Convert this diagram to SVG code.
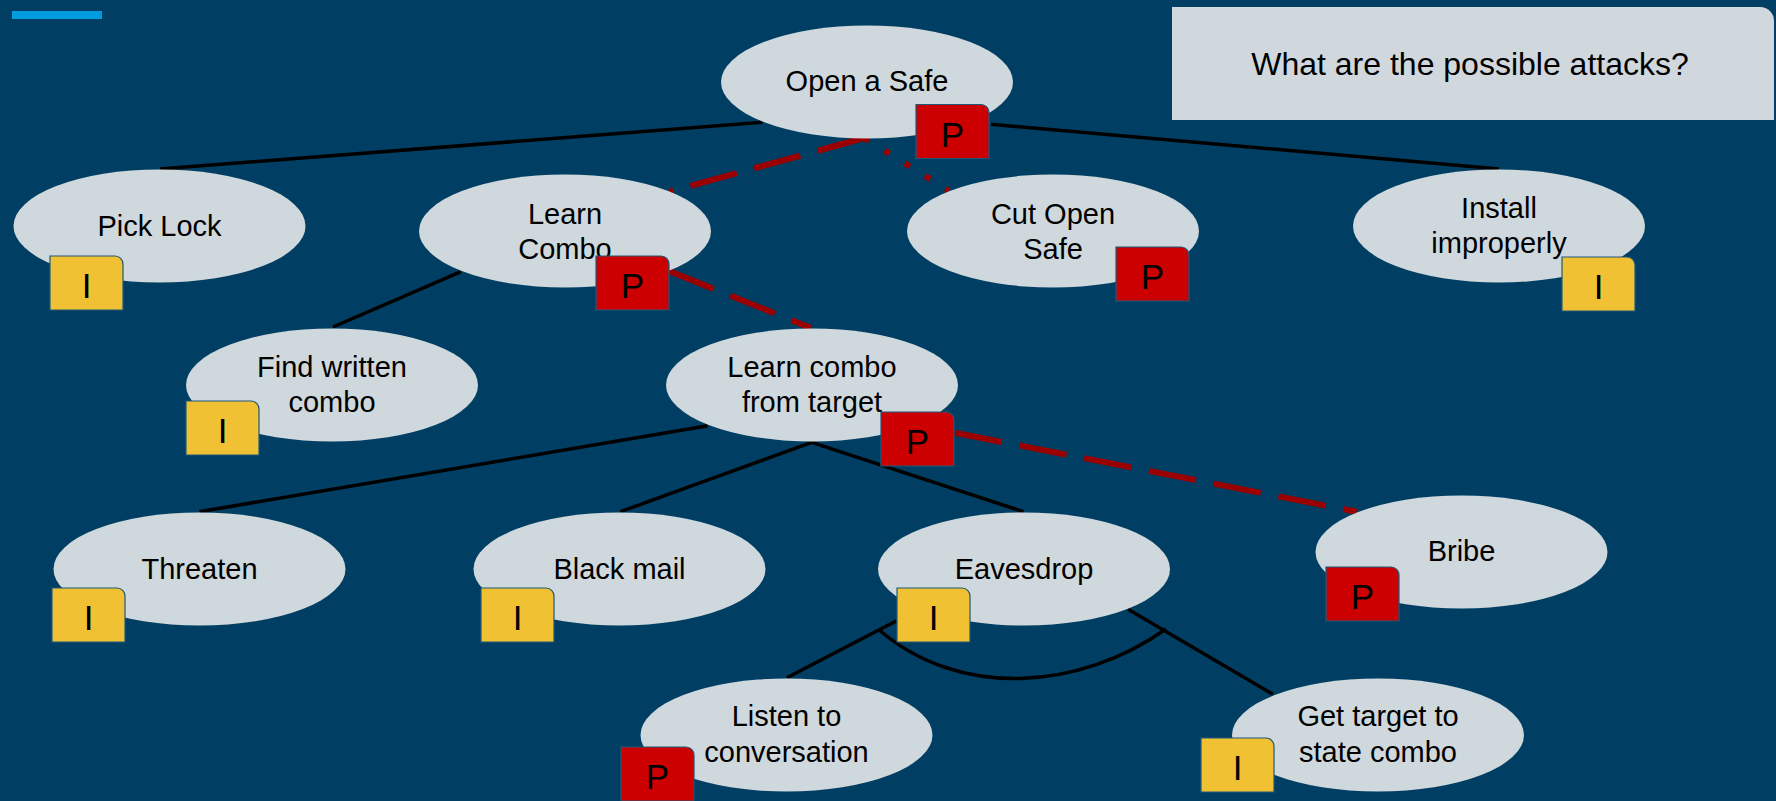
<svg xmlns="http://www.w3.org/2000/svg" xmlns:xlink="http://www.w3.org/1999/xlink" width="1776" height="801" viewBox="0 0 1776 801">
  <style>
    .node { fill: #CFD8DC; }
    .lbl { font-family: "Liberation Sans", Arial, sans-serif; font-size: 29px; fill: #000; text-anchor: middle; }
    .ttl { font-family: "Liberation Sans", Arial, sans-serif; font-size: 32px; fill: #000; text-anchor: middle; }
    .tree { stroke: #000; stroke-width: 3.5; fill: none; }
    .dash { stroke: #9B0000; stroke-width: 6; fill: none; stroke-dasharray: 48 18; }
    .dot { stroke: #9B0000; stroke-width: 6; fill: none; stroke-dasharray: 6 18; }
    .bp { fill: #CC0000; stroke: #1E5878; stroke-width: 1.2; }
    .bi { fill: #F0C233; stroke: #1E5878; stroke-width: 1.2; }
    .btxt { font-family: "Liberation Sans", Arial, sans-serif; font-size: 35px; fill: #000; text-anchor: middle; }
  </style>
  <defs>
    <!-- tag shape: square with one rounded top-right corner -->
    <path id="tag" d="M0 0 H65 A8 8 0 0 1 73 8 V54 H0 Z"/>
  </defs>

  <rect x="0" y="0" width="1776" height="801" fill="#003F63"/>
  <rect x="12" y="11" width="90" height="8" fill="#009CDE"/>

  <g id="question">
    <path d="M1172 7 H1760 A14 14 0 0 1 1774 21 V120 H1172 Z" fill="#D0D8DD"/>
    <text class="ttl" x="1470" y="75">What are the possible attacks?</text>
  </g>

  <g id="connectors">
    <line class="tree" x1="762.6" y1="122.3" x2="160" y2="169"/>
    <line class="tree" x1="991" y1="124.3" x2="1499" y2="169"/>
    <line class="tree" x1="461" y1="271.7" x2="333" y2="327"/>
    <line class="tree" x1="707.7" y1="425.7" x2="199.5" y2="511.7"/>
    <line class="tree" x1="811.7" y1="442.3" x2="620.4" y2="511.7"/>
    <line class="tree" x1="811.7" y1="442.3" x2="1023.5" y2="511.7"/>
    <line class="tree" x1="896.6" y1="620.7" x2="786.9" y2="677.7"/>
    <line class="tree" x1="1128" y1="609.3" x2="1273" y2="694.3"/>
    <path class="tree" d="M878 629 C960 700, 1080 690, 1166 629"/>
    <line class="dash" x1="864" y1="138" x2="669" y2="191.7"/>
    <line class="dot" x1="864" y1="138" x2="949" y2="190.7"/>
    <line class="dash" x1="669" y1="271" x2="811" y2="328"/>
    <line class="dash" x1="954.6" y1="432.7" x2="1356.6" y2="511.7"/>
  </g>

  <g id="open-safe">
    <ellipse class="node" cx="867" cy="82" rx="146" ry="56.5"/>
    <text class="lbl" x="867" y="91">Open a Safe</text>
    <use href="#tag" class="bp" x="916" y="104.5"/>
    <text class="btxt" x="952.5" y="146.5">P</text>
  </g>

  <g id="pick-lock">
    <ellipse class="node" cx="159.5" cy="226" rx="146" ry="56.5"/>
    <text class="lbl" x="159.5" y="236">Pick Lock</text>
    <use href="#tag" class="bi" x="50" y="256"/>
    <text class="btxt" x="86.5" y="298">I</text>
  </g>

  <g id="learn-combo">
    <ellipse class="node" cx="565" cy="231" rx="146" ry="56.5"/>
    <text class="lbl" x="565" y="224">Learn</text>
    <text class="lbl" x="565" y="258.5">Combo</text>
    <use href="#tag" class="bp" x="596" y="256"/>
    <text class="btxt" x="632.5" y="298">P</text>
  </g>

  <g id="cut-open-safe">
    <ellipse class="node" cx="1053" cy="231" rx="146" ry="56.5"/>
    <text class="lbl" x="1053" y="223.5">Cut Open</text>
    <text class="lbl" x="1053" y="258.5">Safe</text>
    <use href="#tag" class="bp" x="1116" y="247"/>
    <text class="btxt" x="1152.5" y="289">P</text>
  </g>

  <g id="install-improperly">
    <ellipse class="node" cx="1499" cy="226" rx="146" ry="56.5"/>
    <text class="lbl" x="1499" y="218">Install</text>
    <text class="lbl" x="1499" y="253">improperly</text>
    <use href="#tag" class="bi" x="1562" y="257"/>
    <text class="btxt" x="1598.5" y="299">I</text>
  </g>

  <g id="find-written-combo">
    <ellipse class="node" cx="332" cy="385" rx="146" ry="56.5"/>
    <text class="lbl" x="332" y="377">Find written</text>
    <text class="lbl" x="332" y="412">combo</text>
    <use href="#tag" class="bi" x="186" y="401"/>
    <text class="btxt" x="222.5" y="443">I</text>
  </g>

  <g id="learn-from-target">
    <ellipse class="node" cx="812" cy="385" rx="146" ry="56.5"/>
    <text class="lbl" x="812" y="377">Learn combo</text>
    <text class="lbl" x="812" y="412">from target</text>
    <use href="#tag" class="bp" x="881" y="412"/>
    <text class="btxt" x="917.5" y="454">P</text>
  </g>

  <g id="threaten">
    <ellipse class="node" cx="199.5" cy="569" rx="146" ry="56.5"/>
    <text class="lbl" x="199.5" y="578.5">Threaten</text>
    <use href="#tag" class="bi" x="52" y="588"/>
    <text class="btxt" x="88.5" y="630">I</text>
  </g>

  <g id="black-mail">
    <ellipse class="node" cx="619.5" cy="569" rx="146" ry="56.5"/>
    <text class="lbl" x="619.5" y="578.5">Black mail</text>
    <use href="#tag" class="bi" x="481" y="588"/>
    <text class="btxt" x="517.5" y="630">I</text>
  </g>

  <g id="eavesdrop">
    <ellipse class="node" cx="1024" cy="569" rx="146" ry="56.5"/>
    <text class="lbl" x="1024" y="578.5">Eavesdrop</text>
    <use href="#tag" class="bi" x="897" y="588"/>
    <text class="btxt" x="933.5" y="630">I</text>
  </g>

  <g id="bribe">
    <ellipse class="node" cx="1461.5" cy="552" rx="146" ry="56.5"/>
    <text class="lbl" x="1461.5" y="561">Bribe</text>
    <use href="#tag" class="bp" x="1326" y="567"/>
    <text class="btxt" x="1362.5" y="609">P</text>
  </g>

  <g id="listen-conversation">
    <ellipse class="node" cx="786.5" cy="735" rx="146" ry="56.5"/>
    <text class="lbl" x="786.5" y="726">Listen to</text>
    <text class="lbl" x="786.5" y="762">conversation</text>
    <use href="#tag" class="bp" x="621" y="747"/>
    <text class="btxt" x="657.5" y="789">P</text>
  </g>

  <g id="get-target-state">
    <ellipse class="node" cx="1378" cy="735" rx="146" ry="56.5"/>
    <text class="lbl" x="1378" y="726">Get target to</text>
    <text class="lbl" x="1378" y="762">state combo</text>
    <use href="#tag" class="bi" x="1201" y="738"/>
    <text class="btxt" x="1237.5" y="780">I</text>
  </g>
</svg>
